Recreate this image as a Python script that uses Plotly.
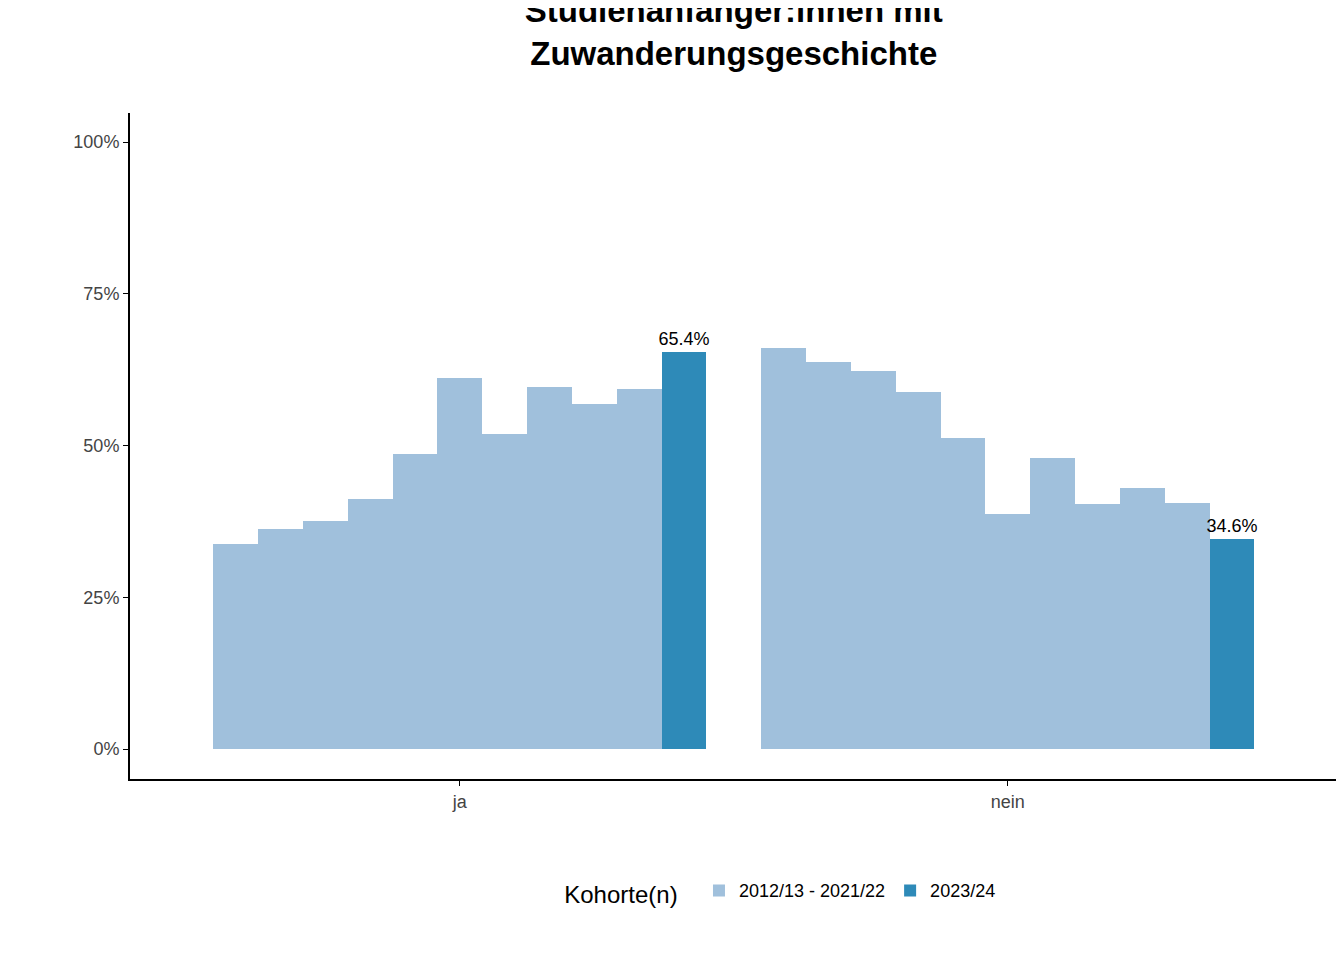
import plotly.graph_objects as go

categories = ["ja", "nein"]
cohorts = ["2012/13", "2013/14", "2014/15", "2015/16", "2016/17", "2017/18",
           "2018/19", "2019/20", "2020/21", "2021/22", "2023/24"]
ja_values = [33.8, 36.2, 37.6, 41.2, 48.6, 61.1, 51.9, 59.6, 56.8, 59.3, 65.4]
nein_values = [66.1, 63.8, 62.3, 58.8, 51.2, 38.7, 47.9, 40.4, 43.0, 40.5, 34.6]

light = "#a0c0dc"
dark = "#2e8ab8"
n = len(cohorts)
w = 0.9 / n

fig = go.Figure()
for gi, vals in enumerate([ja_values, nein_values]):
    xs = [gi + (i - (n - 1) / 2) * w for i in range(n)]
    fig.add_trace(go.Bar(
        x=xs[:-1], y=vals[:-1], width=w, marker=dict(color=light, line_width=0),
        name="2012/13 - 2021/22", showlegend=(gi == 0), legendgroup="old"))
    fig.add_trace(go.Bar(
        x=[xs[-1]], y=[vals[-1]], width=w, marker=dict(color=dark, line_width=0),
        name="2023/24", showlegend=(gi == 0), legendgroup="new",
        text=[f"{vals[-1]:.1f}%"], textposition="outside", cliponaxis=False,
        textfont=dict(size=18, color="black")))

fig.update_layout(
    width=1344, height=960, plot_bgcolor="white", paper_bgcolor="white",
    font=dict(family="Liberation Sans, Arial, sans-serif", size=17, color="#444"),
    margin=dict(l=122, r=16, t=105, b=189, pad=0, autoexpand=False),
    bargap=0,
    title=dict(text="<b>Studienanfänger:innen mit<br>Zuwanderungsgeschichte</b>",
               x=0.54, xanchor="center", y=0.985, yanchor="top",
               font=dict(size=33, color="black")),
    legend=dict(orientation="h", x=0.54, xanchor="center", y=-0.14, yanchor="top",
                title=dict(text="Kohorte(n)  ", font=dict(size=24, color="black")),
                font=dict(size=18, color="black"), itemsizing="constant"),
    uniformtext=dict(mode="show", minsize=18),
)
fig.update_xaxes(range=[-0.602, 1.599], tickvals=[0, 1], ticktext=categories,
                 showline=True, linecolor="black", linewidth=2, ticks="outside",
                 ticklen=5, tickcolor="black", showgrid=False, zeroline=False,
                 tickfont=dict(size=18, color="#444"), automargin=False)
fig.update_yaxes(range=[-4.94, 104.8], tickvals=[0, 25, 50, 75, 100],
                 ticktext=["0%", "25%", "50%", "75%", "100%"],
                 showline=True, linecolor="black", linewidth=2, ticks="outside",
                 ticklen=5, tickcolor="black", showgrid=False, zeroline=False,
                 tickfont=dict(size=18, color="#444"), automargin=False)

fig.write_html("out.html")
